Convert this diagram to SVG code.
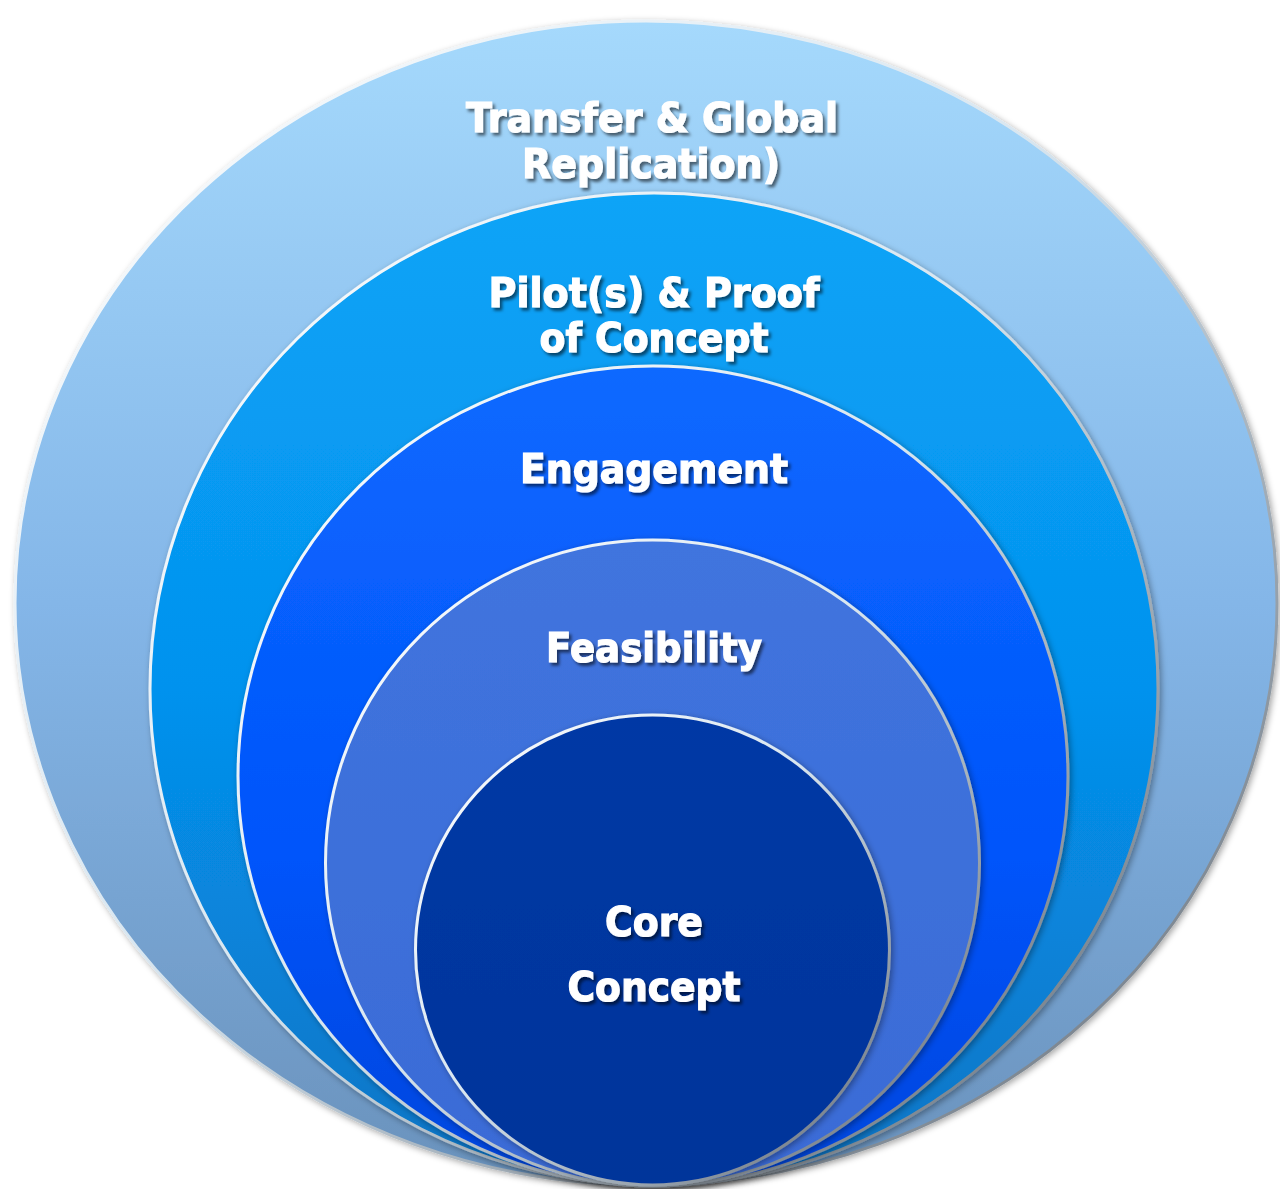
<svg xmlns="http://www.w3.org/2000/svg" width="1280" height="1189" viewBox="0 0 1280 1189">
<defs>
<linearGradient id="g1" x1="0" y1="0" x2="0" y2="1"><stop offset="0" stop-color="#a5d9fc"/><stop offset="0.5" stop-color="#84b6e8"/><stop offset="1" stop-color="#6a92bc"/></linearGradient>
<linearGradient id="g2" x1="0" y1="0" x2="0" y2="1"><stop offset="0" stop-color="#09a4f7"/><stop offset="0.5" stop-color="#0592ee"/><stop offset="1" stop-color="#0a74c4"/></linearGradient>
<linearGradient id="g3" x1="0" y1="0" x2="0" y2="1"><stop offset="0" stop-color="#0a69ff"/><stop offset="0.6" stop-color="#0354fb"/><stop offset="1" stop-color="#0445dc"/></linearGradient>
<linearGradient id="g4" x1="0" y1="0" x2="0" y2="1"><stop offset="0" stop-color="#4074de"/><stop offset="1" stop-color="#3a6bd6"/></linearGradient>
<linearGradient id="g5" x1="0" y1="0" x2="0" y2="1"><stop offset="0" stop-color="#0539a5"/><stop offset="1" stop-color="#05349a"/></linearGradient>
<linearGradient id="edge" x1="0" y1="0" x2="1" y2="1"><stop offset="0" stop-color="#ffffff"/><stop offset="0.45" stop-color="#d8e6f0"/><stop offset="1" stop-color="#5e6670"/></linearGradient>
<filter id="sh" x="-5%" y="-5%" width="110%" height="110%"><feDropShadow dx="2" dy="2" stdDeviation="3" flood-color="#000" flood-opacity="0.35"/></filter>
<filter id="ts" x="-10%" y="-20%" width="120%" height="150%"><feDropShadow dx="2.5" dy="3" stdDeviation="1.5" flood-color="#000" flood-opacity="0.55"/></filter>
<style>
.ring{stroke:url(#edge);stroke-width:3;filter:url(#sh)}
.lbl{font-family:"DejaVu Sans","Liberation Sans",sans-serif;font-weight:bold;font-size:41px;fill:#ffffff;stroke:#ffffff;stroke-width:1.2;text-anchor:middle;filter:url(#ts)}
</style>
</defs>
<rect width="1280" height="1189" fill="#ffffff"/>
<g id="ring-transfer">
<ellipse class="ring" cx="646" cy="603" rx="631" ry="582" fill="url(#g1)"/>
<text class="lbl" x="652" y="132" textLength="372" lengthAdjust="spacingAndGlyphs">Transfer &amp; Global</text>
<text class="lbl" x="651" y="178" textLength="258" lengthAdjust="spacingAndGlyphs">Replication)</text>
</g>
<g id="ring-pilot">
<ellipse class="ring" cx="654" cy="689" rx="504" ry="496" fill="url(#g2)"/>
<text class="lbl" x="654" y="307" textLength="331" lengthAdjust="spacingAndGlyphs">Pilot(s) &amp; Proof</text>
<text class="lbl" x="654" y="352" textLength="229" lengthAdjust="spacingAndGlyphs">of Concept</text>
</g>
<g id="ring-engagement">
<ellipse class="ring" cx="653" cy="776" rx="415" ry="410" fill="url(#g3)"/>
<text class="lbl" x="654" y="483" textLength="268" lengthAdjust="spacingAndGlyphs">Engagement</text>
</g>
<g id="ring-feasibility">
<ellipse class="ring" cx="652.5" cy="863" rx="327" ry="323" fill="url(#g4)"/>
<text class="lbl" x="654" y="662" textLength="216" lengthAdjust="spacingAndGlyphs">Feasibility</text>
</g>
<g id="ring-core">
<ellipse class="ring" cx="652.5" cy="950" rx="237" ry="235" fill="url(#g5)"/>
<text class="lbl" x="654" y="936" textLength="98" lengthAdjust="spacingAndGlyphs">Core</text>
<text class="lbl" x="654" y="1001" textLength="173" lengthAdjust="spacingAndGlyphs">Concept</text>
</g>
</svg>
